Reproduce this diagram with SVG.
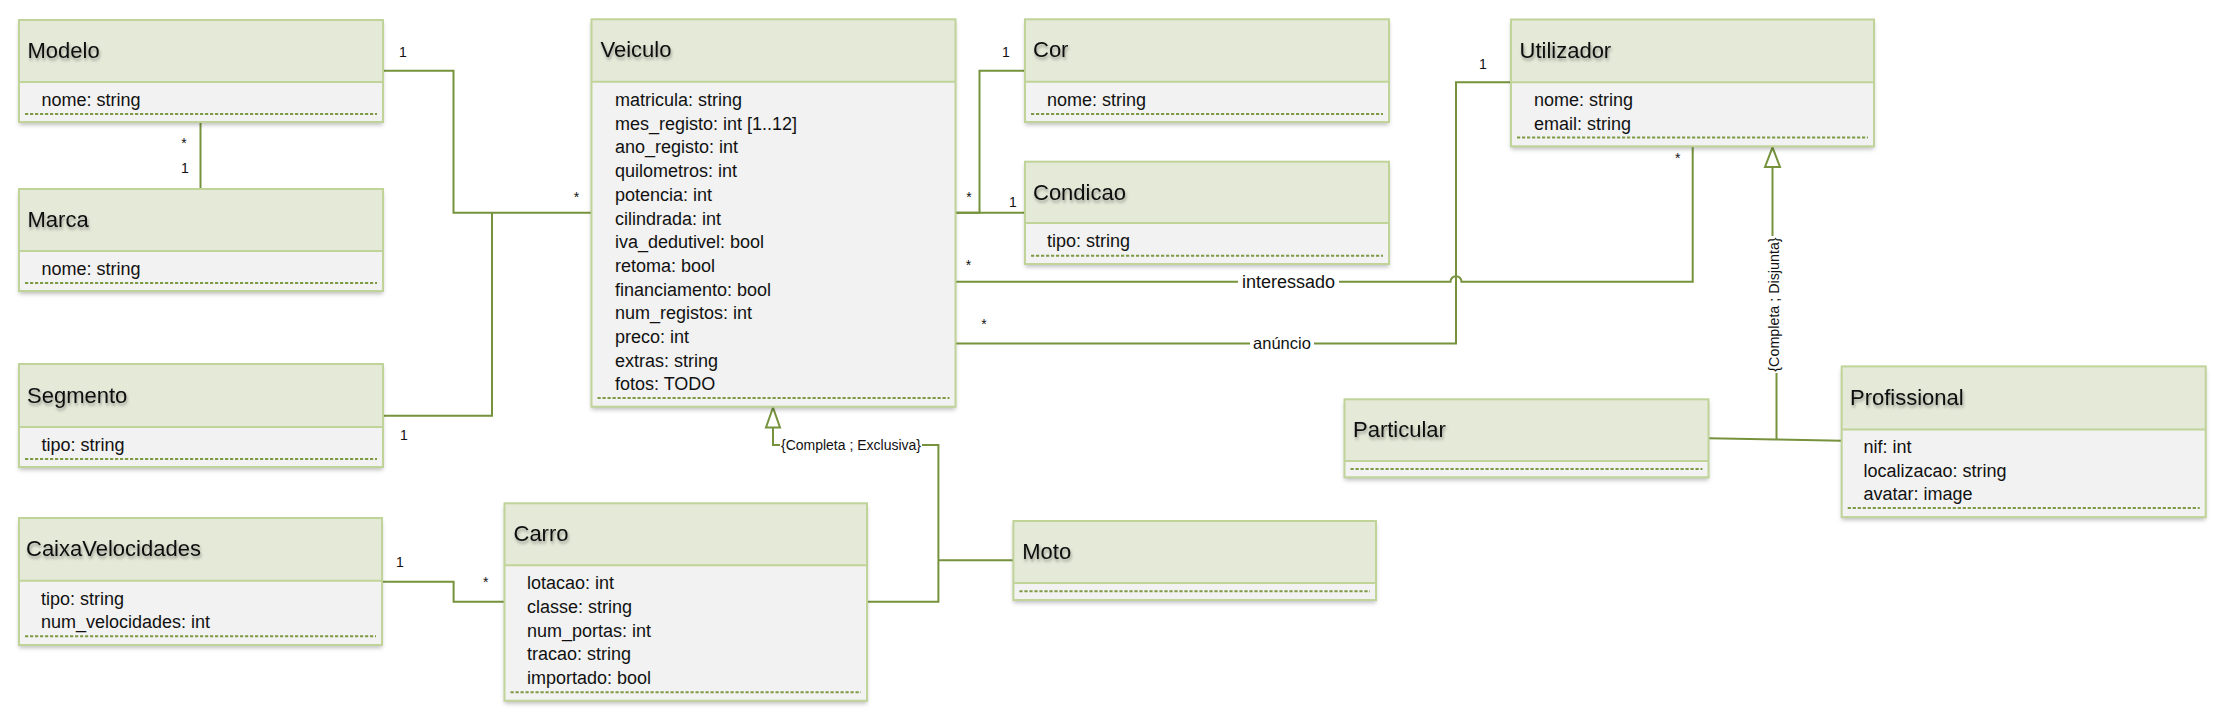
<svg xmlns="http://www.w3.org/2000/svg" width="2240" height="728" viewBox="0 0 2240 728">
<defs>
<filter id="bs" x="-5%" y="-5%" width="110%" height="120%">
<feDropShadow dx="0" dy="3" stdDeviation="2" flood-color="#000" flood-opacity="0.25"/>
</filter>
<filter id="ts" x="-10%" y="-30%" width="130%" height="180%">
<feDropShadow dx="1" dy="2.5" stdDeviation="1.5" flood-color="#000" flood-opacity="0.35"/>
</filter>
<style>
.body{fill:#F2F2F2;filter:url(#bs)}
.head{fill:#E5E9D8}
.frame{fill:none;stroke:#C0D399;stroke-width:2}
.div{stroke:#C0D399;stroke-width:2}
.dash{stroke:#7F9A45;stroke-width:2;stroke-dasharray:3.2 1.8}
.title{font-family:"Liberation Sans",Arial,sans-serif;font-size:22px;fill:#111;filter:url(#ts)}
.attr{font-family:"Liberation Sans",Arial,sans-serif;font-size:18px;fill:#111}
.mult{font-family:"Liberation Sans",Arial,sans-serif;font-size:14px;fill:#111;text-anchor:middle}
.lbl{font-family:"Liberation Sans",Arial,sans-serif;fill:#111}
.con{fill:none;stroke:#76923C;stroke-width:2}
.tri{fill:#fff;stroke:#76923C;stroke-width:2}
</style>
</defs>
<rect width="2240" height="728" fill="#fff"/>

<g id="connectors">
<path class="con" d="M383 70.7 H453.5 V212.7 H591.5"/>
<path class="con" d="M383 415.7 H492 V212.7"/>
<path class="con" d="M200.5 122 V189"/>
<path class="con" d="M955.5 212.7 H979.5 V70.7 H1025"/>
<path class="con" d="M955.5 212.7 H1025"/>
<path class="con" d="M955.5 281.7 H1450.5 A5.5 5.5 0 0 1 1461.5 281.7 H1692.7 V146.3"/>
<path class="con" d="M955.5 343.5 H1456 V82.3 H1511"/>
<path class="con" d="M382 581.7 H453.6 V601.7 H504.5"/>
<path class="con" d="M773 427.5 V445 H780"/>
<path class="con" d="M922 445 H938.4 V601.7 H867"/>
<path class="con" d="M938.4 560.3 H1013.4"/>
<polygon class="tri" points="773,407.5 766,427.5 780,427.5"/>
<path class="con" d="M1772.5 167 V236"/>
<path class="con" d="M1776.5 373 V439.5"/>
<path class="con" d="M1708.7 438.3 L1776.5 439.5 L1841.7 440.7"/>
<polygon class="tri" points="1772.5,147.3 1765,167 1780,167"/>
<rect x="1238" y="271" width="101" height="21" fill="#fff"/>
<text class="lbl" x="1288.5" y="288" font-size="18" text-anchor="middle">interessado</text>
<rect x="1250" y="332" width="64" height="21" fill="#fff"/>
<text class="lbl" x="1282" y="349" font-size="16.5" text-anchor="middle">anúncio</text>
<text class="lbl" x="851" y="450" font-size="14" text-anchor="middle">{Completa ; Exclusiva}</text>
<text class="lbl" font-size="14.3" text-anchor="middle" transform="translate(1778.5 304.5) rotate(-90)">{Completa ; Disjunta}</text>
<text class="mult" x="403" y="57">1</text>
<text class="mult" x="184" y="148">*</text>
<text class="mult" x="185" y="173">1</text>
<text class="mult" x="576.5" y="202">*</text>
<text class="mult" x="404" y="440">1</text>
<text class="mult" x="1006" y="56.7">1</text>
<text class="mult" x="969" y="202">*</text>
<text class="mult" x="1013" y="206.7">1</text>
<text class="mult" x="968.6" y="270">*</text>
<text class="mult" x="984" y="329">*</text>
<text class="mult" x="1483" y="68.5">1</text>
<text class="mult" x="1677.7" y="163">*</text>
<text class="mult" x="400" y="567">1</text>
<text class="mult" x="485.7" y="587">*</text>
</g>

<g id="modelo">
<rect class="body" x="19" y="20" width="364" height="102"/>
<rect class="head" x="19" y="20" width="364" height="62"/>
<line class="div" x1="19" y1="82" x2="383" y2="82"/>
<rect class="frame" x="19" y="20" width="364" height="102"/>
<text class="title" x="27.5" y="58">Modelo</text>
<text class="attr" x="41.5" y="105.5">nome: string</text>
<line class="dash" x1="25" y1="114" x2="377" y2="114"/>
</g>

<g id="marca">
<rect class="body" x="19" y="189" width="364" height="102"/>
<rect class="head" x="19" y="189" width="364" height="62"/>
<line class="div" x1="19" y1="251" x2="383" y2="251"/>
<rect class="frame" x="19" y="189" width="364" height="102"/>
<text class="title" x="27.5" y="227">Marca</text>
<text class="attr" x="41.5" y="274.5">nome: string</text>
<line class="dash" x1="25" y1="283" x2="377" y2="283"/>
</g>

<g id="segmento">
<rect class="body" x="19" y="364" width="364" height="103"/>
<rect class="head" x="19" y="364" width="364" height="63"/>
<line class="div" x1="19" y1="427" x2="383" y2="427"/>
<rect class="frame" x="19" y="364" width="364" height="103"/>
<text class="title" x="27" y="403">Segmento</text>
<text class="attr" x="41.5" y="451">tipo: string</text>
<line class="dash" x1="25" y1="459" x2="377" y2="459"/>
</g>

<g id="caixavelocidades">
<rect class="body" x="19" y="518" width="363" height="127"/>
<rect class="head" x="19" y="518" width="363" height="62.7"/>
<line class="div" x1="19" y1="580.7" x2="382" y2="580.7"/>
<rect class="frame" x="19" y="518" width="363" height="127"/>
<text class="title" x="26" y="556">CaixaVelocidades</text>
<text class="attr" x="41" y="604.7">tipo: string</text>
<text class="attr" x="41" y="628.4">num_velocidades: int</text>
<line class="dash" x1="25" y1="636.3" x2="376" y2="636.3"/>
</g>

<g id="veiculo">
<rect class="body" x="591.5" y="19.3" width="364" height="387.4"/>
<rect class="head" x="591.5" y="19.3" width="364" height="62.4"/>
<line class="div" x1="591.5" y1="81.7" x2="955.5" y2="81.7"/>
<rect class="frame" x="591.5" y="19.3" width="364" height="387.4"/>
<text class="title" x="600.5" y="57">Veiculo</text>
<text class="attr" x="615" y="106">matricula: string</text>
<text class="attr" x="615" y="129.7">mes_registo: int [1..12]</text>
<text class="attr" x="615" y="153.4">ano_registo: int</text>
<text class="attr" x="615" y="177.1">quilometros: int</text>
<text class="attr" x="615" y="200.8">potencia: int</text>
<text class="attr" x="615" y="224.5">cilindrada: int</text>
<text class="attr" x="615" y="248.2">iva_dedutivel: bool</text>
<text class="attr" x="615" y="271.9">retoma: bool</text>
<text class="attr" x="615" y="295.6">financiamento: bool</text>
<text class="attr" x="615" y="319.3">num_registos: int</text>
<text class="attr" x="615" y="343">preco: int</text>
<text class="attr" x="615" y="366.7">extras: string</text>
<text class="attr" x="615" y="390.4">fotos: TODO</text>
<line class="dash" x1="597.5" y1="398" x2="949.5" y2="398"/>
</g>

<g id="cor">
<rect class="body" x="1025" y="19.3" width="364" height="102.7"/>
<rect class="head" x="1025" y="19.3" width="364" height="62.4"/>
<line class="div" x1="1025" y1="81.7" x2="1389" y2="81.7"/>
<rect class="frame" x="1025" y="19.3" width="364" height="102.7"/>
<text class="title" x="1033" y="57">Cor</text>
<text class="attr" x="1047" y="105.5">nome: string</text>
<line class="dash" x1="1031" y1="114" x2="1383" y2="114"/>
</g>

<g id="condicao">
<rect class="body" x="1025" y="161.7" width="364" height="102.3"/>
<rect class="head" x="1025" y="161.7" width="364" height="61.3"/>
<line class="div" x1="1025" y1="223" x2="1389" y2="223"/>
<rect class="frame" x="1025" y="161.7" width="364" height="102.3"/>
<text class="title" x="1033" y="199.5">Condicao</text>
<text class="attr" x="1047" y="247">tipo: string</text>
<line class="dash" x1="1031" y1="255.7" x2="1383" y2="255.7"/>
</g>

<g id="utilizador">
<rect class="body" x="1511" y="19.5" width="363" height="126.8"/>
<rect class="head" x="1511" y="19.5" width="363" height="62.8"/>
<line class="div" x1="1511" y1="82.3" x2="1874" y2="82.3"/>
<rect class="frame" x="1511" y="19.5" width="363" height="126.8"/>
<text class="title" x="1519.5" y="57.5">Utilizador</text>
<text class="attr" x="1534" y="106">nome: string</text>
<text class="attr" x="1534" y="129.7">email: string</text>
<line class="dash" x1="1517" y1="137.5" x2="1868" y2="137.5"/>
</g>

<g id="particular">
<rect class="body" x="1344.5" y="399.3" width="364" height="78"/>
<rect class="head" x="1344.5" y="399.3" width="364" height="61.7"/>
<line class="div" x1="1344.5" y1="461" x2="1708.5" y2="461"/>
<rect class="frame" x="1344.5" y="399.3" width="364" height="78"/>
<text class="title" x="1353" y="437.3">Particular</text>
<line class="dash" x1="1350.5" y1="469" x2="1702.5" y2="469"/>
</g>

<g id="profissional">
<rect class="body" x="1841.7" y="366.4" width="364" height="150.7"/>
<rect class="head" x="1841.7" y="366.4" width="364" height="63"/>
<line class="div" x1="1841.7" y1="429.4" x2="2205.7" y2="429.4"/>
<rect class="frame" x="1841.7" y="366.4" width="364" height="150.7"/>
<text class="title" x="1850" y="404.5">Profissional</text>
<text class="attr" x="1863.5" y="453">nif: int</text>
<text class="attr" x="1863.5" y="476.7">localizacao: string</text>
<text class="attr" x="1863.5" y="500.4">avatar: image</text>
<line class="dash" x1="1847.7" y1="508" x2="2199.7" y2="508"/>
</g>

<g id="carro">
<rect class="body" x="504.5" y="503.3" width="362.5" height="197.4"/>
<rect class="head" x="504.5" y="503.3" width="362.5" height="62"/>
<line class="div" x1="504.5" y1="565.3" x2="867" y2="565.3"/>
<rect class="frame" x="504.5" y="503.3" width="362.5" height="197.4"/>
<text class="title" x="513.5" y="541.3">Carro</text>
<text class="attr" x="527" y="589">lotacao: int</text>
<text class="attr" x="527" y="612.8">classe: string</text>
<text class="attr" x="527" y="636.6">num_portas: int</text>
<text class="attr" x="527" y="660.4">tracao: string</text>
<text class="attr" x="527" y="684.2">importado: bool</text>
<line class="dash" x1="510.5" y1="692.3" x2="861" y2="692.3"/>
</g>

<g id="moto">
<rect class="body" x="1013.4" y="521" width="362.6" height="79"/>
<rect class="head" x="1013.4" y="521" width="362.6" height="62"/>
<line class="div" x1="1013.4" y1="583" x2="1376" y2="583"/>
<rect class="frame" x="1013.4" y="521" width="362.6" height="79"/>
<text class="title" x="1022.3" y="559">Moto</text>
<line class="dash" x1="1019.4" y1="591.3" x2="1370" y2="591.3"/>
</g>
</svg>
